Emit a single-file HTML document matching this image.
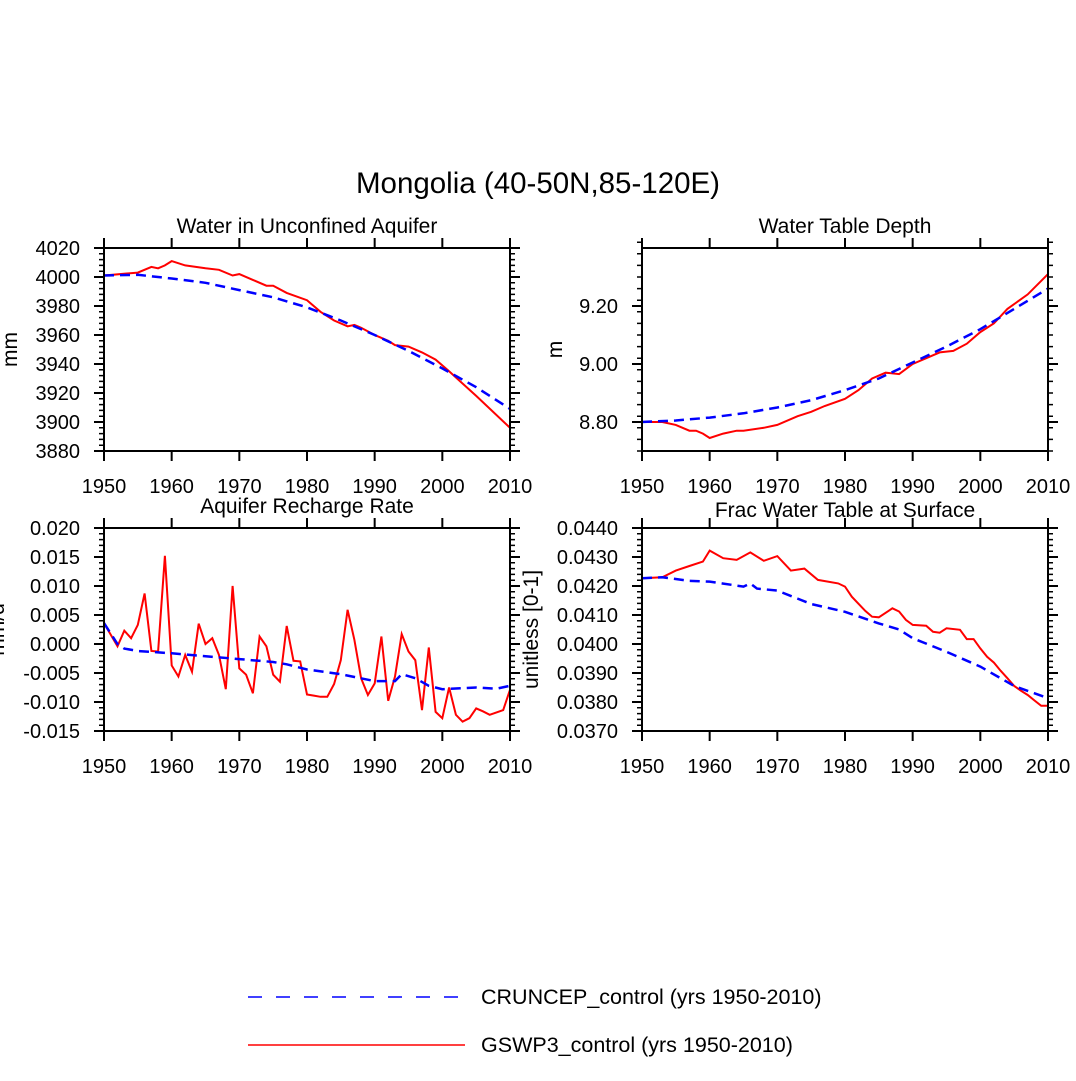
<!DOCTYPE html>
<html><head><meta charset="utf-8"><style>
html,body{margin:0;padding:0;background:#fff}
svg text{font-family:"Liberation Sans",Arial,sans-serif;fill:#000}
</style></head><body>
<svg id="chart" width="1076" height="1076" viewBox="0 0 1076 1076" xmlns="http://www.w3.org/2000/svg">
<rect width="1076" height="1076" fill="#fff"/>
<text x="538" y="193" font-size="29.5" text-anchor="middle">Mongolia (40-50N,85-120E)</text>
<g id="panels"></g>
<g>
<line x1="248" y1="997" x2="465" y2="997" stroke="#0000ff" stroke-width="1.5" stroke-dasharray="14,14"/>
<text x="481" y="1004" font-size="21.5">CRUNCEP_control (yrs 1950-2010)</text>
<line x1="248" y1="1045" x2="465" y2="1045" stroke="#ff0000" stroke-width="1.5"/>
<text x="481" y="1052" font-size="21.5">GSWP3_control (yrs 1950-2010)</text>
</g>
</svg>
<script>
// Panel 1: Water in Unconfined Aquifer
const aqRedYears=[1950,1955,1957,1958,1959,1960,1962,1965,1967,1969,1970,1972,1974,1975,1977,1980,1982,1984,1986,1987,1988,1990,1992,1993,1995,1997,1999,2001,2005,2010];
const aqRedVals=[4001,4003,4007,4006,4008,4011,4008,4006,4005,4001,4002,3998,3994,3994,3989,3984,3976,3970,3966,3967,3965,3960,3956,3953,3952,3948,3943,3935,3918,3896];
const aqBlueYears=[1950,1955,1960,1965,1970,1975,1980,1985,1990,1995,2000,2005,2010];
const aqBlueVals=[4001,4001.5,3999,3996,3991,3986,3979,3970,3960,3949,3937,3924,3909];
const aqTicks=["3880","3900","3920","3940","3960","3980","4000","4020"];
// Panel 2: Water Table Depth
const wtRedYears=[1950,1953,1955,1957,1958,1959,1960,1962,1964,1965,1968,1970,1973,1975,1977,1980,1982,1984,1986,1988,1990,1992,1994,1996,1998,2000,2002,2004,2007,2010];
const wtRedVals=[8.80,8.80,8.79,8.77,8.77,8.76,8.745,8.76,8.77,8.77,8.78,8.79,8.82,8.835,8.855,8.88,8.91,8.95,8.97,8.965,9.00,9.02,9.04,9.045,9.07,9.11,9.14,9.19,9.24,9.31];
const wtBlueYears=[1950,1955,1960,1965,1970,1975,1980,1985,1990,1995,2000,2005,2010];
const wtBlueVals=[8.80,8.805,8.815,8.83,8.85,8.875,8.91,8.95,9.005,9.06,9.12,9.19,9.26];
const wtTicks=["8.80","9.00","9.20"];
// Panel 3: Aquifer Recharge Rate
const rcRedYears=[1950,1952,1953,1954,1955,1956,1957,1958,1959,1960,1961,1962,1963,1964,1965,1966,1967,1968,1969,1970,1971,1972,1973,1974,1975,1976,1977,1978,1979,1980,1981,1982,1983,1984,1985,1986,1987,1988,1989,1990,1991,1992,1993,1994,1995,1996,1997,1998,1999,2000,2001,2002,2003,2004,2005,2006,2007,2008,2009,2010];
const rcRedVals=[0.0036,-0.0004,0.0023,0.0010,0.0033,0.0087,-0.0012,-0.0013,0.0152,-0.0037,-0.0056,-0.0019,-0.0048,0.0035,0.0000,0.0010,-0.0019,-0.0078,0.0100,-0.0042,-0.0053,-0.0085,0.0013,-0.0004,-0.0053,-0.0065,0.0031,-0.0029,-0.0030,-0.0087,-0.0089,-0.0091,-0.0091,-0.0069,-0.0028,0.0059,0.0007,-0.0059,-0.0088,-0.0068,0.0013,-0.0098,-0.0056,0.0017,-0.0013,-0.0028,-0.0114,-0.0006,-0.0117,-0.0128,-0.0075,-0.0122,-0.0134,-0.0128,-0.0111,-0.0116,-0.0122,-0.0118,-0.0114,-0.0079];
const rcBlueYears=[1950,1952,1953,1955,1960,1965,1970,1975,1977,1980,1985,1990,1993,1994,1996,1998,2000,2005,2008,2010];
const rcBlueVals=[0.0036,0.0000,-0.0008,-0.0012,-0.0016,-0.0021,-0.0026,-0.0031,-0.0035,-0.0044,-0.0052,-0.0064,-0.0064,-0.0052,-0.0059,-0.0072,-0.0078,-0.0075,-0.0077,-0.0072];
const rcTicks=["-0.015","-0.010","-0.005","0.000","0.005","0.010","0.015","0.020"];
// Panel 4: Frac Water Table at Surface
const frRedYears=[1950,1953,1955,1957,1959,1960,1962,1964,1966,1968,1970,1972,1974,1976,1979,1980,1981,1983,1984,1985,1987,1988,1989,1990,1992,1993,1994,1995,1997,1998,1999,2000,2001,2002,2003,2004,2005,2006,2007,2008,2009,2010];
const frRedVals=[0.04227,0.04230,0.04253,0.04269,0.04284,0.04322,0.04296,0.04290,0.04316,0.04287,0.04303,0.04253,0.04260,0.04221,0.04209,0.04198,0.04163,0.04114,0.04094,0.04092,0.04123,0.04112,0.04083,0.04066,0.04063,0.04042,0.04039,0.04054,0.04049,0.04017,0.04017,0.03985,0.03956,0.03936,0.03908,0.03882,0.03855,0.03839,0.03824,0.03805,0.03787,0.03787];
const frBlueYears=[1950,1953,1957,1960,1965,1966,1967,1970,1975,1980,1985,1988,1990,1995,2000,2005,2010];
const frBlueVals=[0.04227,0.04230,0.04218,0.04215,0.04198,0.04209,0.04191,0.04184,0.04138,0.04111,0.04071,0.04050,0.04020,0.03973,0.03922,0.03855,0.03813];
const frTicks=["0.0370","0.0380","0.0390","0.0400","0.0410","0.0420","0.0430","0.0440"];
const xTicks=["1950","1960","1970","1980","1990","2000","2010"];

const NS="http://www.w3.org/2000/svg";
const root=document.getElementById('panels');
function mk(tag,attrs,parent){const e=document.createElementNS(NS,tag);for(const k in attrs)e.setAttribute(k,attrs[k]);(parent||root).appendChild(e);return e;}

function panel(cfg){
  const {x0,x1,y0,y1,ymin,ymax,minorStep,ticks,title,ylabel,red,blue,name,titleY,ylabX}=cfg;
  const g=mk('g',{});
  
  
  const sx=v=>x0+(v-1950)/60*(x1-x0);
  const sy=v=>y1-(v-ymin)/(ymax-ymin)*(y1-y0);
  const nMin=Math.round((ymax-ymin)/minorStep);
  for(let i=0;i<=nMin;i++){const y=sy(ymin+i*minorStep);
    const l=mk('path',{d:`M${x0-5} ${y}H${x0}M${x1} ${y}H${x1+5}`,stroke:'#000','stroke-width':1.5},g);
    
    }
  ticks.forEach(t=>{const y=sy(parseFloat(t));
    const l=mk('path',{d:`M${x0-10} ${y}H${x0}M${x1} ${y}H${x1+10}`,stroke:'#000','stroke-width':2},g);
    
    
    const tx=mk('text',{x:x0-24,y:y+7,'font-size':20,'text-anchor':'end'},g);tx.textContent=t;
    
    });
  xTicks.forEach(t=>{const x=sx(+t);
    const l=mk('path',{d:`M${x} ${y1}V${y1+10}M${x} ${y0}V${y0-10}`,stroke:'#000','stroke-width':2},g);
    
    
    const tx=mk('text',{x:x,y:y1+42,'font-size':20,'text-anchor':'middle'},g);tx.textContent=t;
    
    });
  const cp='clip-'+name;
  const c=mk('clipPath',{id:cp},g);mk('rect',{x:x0,y:y0,width:x1-x0,height:y1-y0},c);
  const pts=(ys,vs)=>ys.map((yr,i)=>sx(yr).toFixed(1)+','+sy(vs[i]).toFixed(1)).join(' ');
  const rl=mk('polyline',{points:pts(red[0],red[1]),fill:'none',stroke:'#ff0000','stroke-width':2,'clip-path':`url(#${cp})`},g);
  
  
  const bl=mk('polyline',{points:pts(blue[0],blue[1]),fill:'none',stroke:'#0000ff','stroke-width':2.5,'stroke-dasharray':'10,6','clip-path':`url(#${cp})`},g);
  
  
  const fr=mk('rect',{x:x0,y:y0,width:x1-x0,height:y1-y0,fill:'none',stroke:'#000','stroke-width':2},g);
  
  
  const tt=mk('text',{x:(x0+x1)/2,y:titleY,'font-size':21,'text-anchor':'middle'},g);tt.textContent=title;
  
  
  const yl=mk('text',{x:0,y:0,'font-size':21,'text-anchor':'middle',transform:`translate(${ylabX},${(y0+y1)/2}) rotate(-90)`},g);yl.textContent=ylabel;
  
  
}
panel({name:'aquifer',x0:104,x1:510,y0:248,y1:451,ymin:3880,ymax:4020,minorStep:4,ticks:aqTicks,title:'Water in Unconfined Aquifer',ylabel:'mm',red:[aqRedYears,aqRedVals],blue:[aqBlueYears,aqBlueVals],titleY:233,ylabX:17});
panel({name:'water-table',x0:642,x1:1048,y0:248,y1:451,ymin:8.70,ymax:9.40,minorStep:0.04,ticks:wtTicks,title:'Water Table Depth',ylabel:'m',red:[wtRedYears,wtRedVals],blue:[wtBlueYears,wtBlueVals],titleY:233,ylabX:562});
panel({name:'recharge',x0:104,x1:510,y0:528,y1:731,ymin:-0.015,ymax:0.020,minorStep:0.001,ticks:rcTicks,title:'Aquifer Recharge Rate',ylabel:'mm/d',red:[rcRedYears,rcRedVals],blue:[rcBlueYears,rcBlueVals],titleY:513,ylabX:4});
panel({name:'frac',x0:642,x1:1048,y0:528,y1:731,ymin:0.0370,ymax:0.0440,minorStep:0.0002,ticks:frTicks,title:'Frac Water Table at Surface',ylabel:'unitless [0-1]',red:[frRedYears,frRedVals],blue:[frBlueYears,frBlueVals],titleY:517,ylabX:538});
</script>
</body></html>
